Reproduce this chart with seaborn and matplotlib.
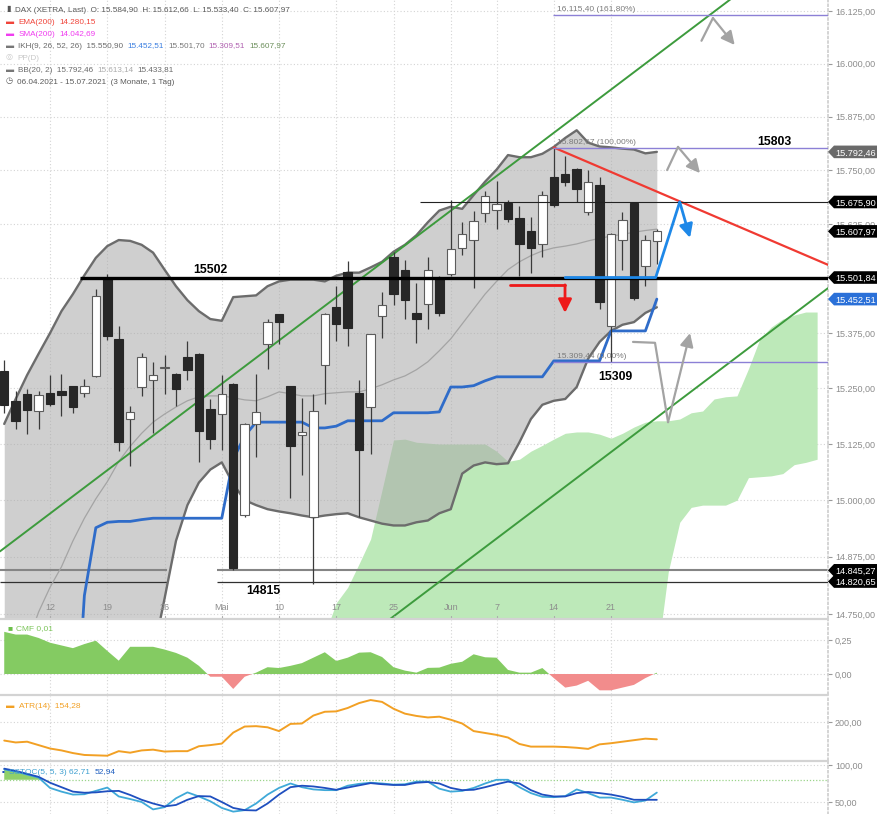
import numpy as np
import pandas as pd
import matplotlib
matplotlib.use("Agg")
import matplotlib.pyplot as plt
import matplotlib.transforms as mtransforms
from matplotlib.ticker import FixedLocator, NullLocator, NullFormatter, FuncFormatter
from matplotlib.patches import Polygon
from matplotlib.lines import Line2D
import seaborn as sns

sns.set_theme(style="white")
plt.rcParams["font.family"] = ["Liberation Sans", "DejaVu Sans"]

# ---------------------------------------------------------------- data
trade_days = pd.bdate_range("2021-04-06", "2021-06-25").drop(pd.Timestamp("2021-05-24"))
future_days = pd.bdate_range("2021-06-28", "2021-07-15")

tick_dates = ["2021-04-12", "2021-04-19", "2021-04-26", "2021-05-03", "2021-05-10", "2021-05-17",
              "2021-05-25", "2021-06-01", "2021-06-07", "2021-06-14", "2021-06-21"]
tick_labels = ["12", "19", "26", "Mai", "10", "17", "25", "Jun", "7", "14", "21"]

opens = [15290, 15222, 15237, 15198, 15240, 15245, 15255, 15239, 15277, 15501,
         15362, 15181, 15253, 15269, 15297, 15283, 15320, 15328, 15204, 15192,
         15260, 14967, 15170, 15351, 15418, 15255, 15145, 14963, 15302, 15434,
         15514, 15239, 15208, 15413, 15549, 15520, 15421, 15441, 15498, 15511,
         15569, 15589, 15650, 15657, 15673, 15639, 15609, 15580, 15735, 15740,
         15752, 15652, 15716, 15392, 15588, 15673, 15528, 15584.90]
highs = [15313, 15245, 15249, 15245, 15279, 15283, 15256, 15271, 15475, 15510,
         15392, 15211, 15330, 15310, 15326, 15285, 15358, 15330, 15226, 15279,
         15262, 15171, 15283, 15407, 15418, 15255, 15228, 15238, 15420, 15483,
         15539, 15268, 15372, 15468, 15560, 15543, 15490, 15549, 15505, 15680,
         15629, 15654, 15702, 15725, 15680, 15667, 15641, 15701, 15802.67, 15784,
         15754, 15750, 15735, 15605, 15652, 15676, 15600, 15612.66]
lows = [15195, 15158, 15147, 15158, 15211, 15188, 15194, 15230, 15275, 15360,
        15109, 15075, 15232, 15149, 15237, 15211, 15269, 15085, 15113, 15111,
        14845, 14963, 15095, 15293, 15351, 15004, 15057, 14816, 15215, 15356,
        15345, 14963, 15102, 15364, 15440, 15407, 15353, 15385, 15415, 15505,
        15554, 15479, 15630, 15614, 15630, 15505, 15513, 15550, 15665, 15712,
        15675, 15645, 15430, 15309.44, 15520, 15450, 15482, 15533.40]
closes = [15213, 15177, 15201, 15234, 15215, 15234, 15209, 15256, 15460, 15368,
          15130, 15196, 15320, 15279, 15299, 15249, 15292, 15155, 15136, 15237,
          14850, 15170, 15196, 15401, 15401, 15120, 15151, 15200, 15418, 15396,
          15386, 15112, 15372, 15439, 15464, 15450, 15407, 15520, 15421, 15567,
          15601, 15631, 15689, 15672, 15637, 15579, 15569, 15692, 15669, 15723,
          15706, 15723, 15446, 15603, 15635, 15456, 15588, 15607.97]

bb_upper = [15170, 15226, 15280, 15328, 15375, 15425, 15464, 15507, 15547, 15574,
            15588, 15586, 15577, 15559, 15520, 15482, 15450, 15425, 15407, 15403,
            15457, 15459, 15461, 15482, 15493, 15497, 15497, 15497, 15493, 15506,
            15513, 15513, 15525, 15538, 15561, 15577, 15599, 15629, 15656, 15665,
            15660, 15692, 15723, 15751, 15785, 15780, 15780, 15788, 15804, 15825,
            15843, 15814, 15805, 15803, 15800, 15798, 15789, 15792.46]
bb_middle = [14550, 14620, 14684, 14754, 14808, 14853, 14910, 14960, 15003, 15041,
             15086, 15120, 15149, 15174, 15192, 15208, 15222, 15231, 15233, 15233,
             15229, 15224, 15222, 15231, 15242, 15238, 15233, 15233, 15238, 15240,
             15242, 15242, 15249, 15258, 15269, 15278, 15292, 15310, 15335, 15362,
             15396, 15430, 15464, 15493, 15520, 15538, 15552, 15563, 15570, 15574,
             15579, 15586, 15592, 15597, 15601, 15606, 15610, 15613.14]
bb_lower = [14300, 14320, 14340, 14360, 14380, 14400, 14420, 14440, 14460, 14480,
            14500, 14520, 14548, 14661, 14783, 14910, 14989, 15039, 15068, 15084,
            15036, 15000, 14989, 14980, 14975, 14971, 14966, 14962, 14966, 14969,
            14971, 14962, 14955, 14948, 14944, 14944, 14951, 14955, 14971, 14980,
            15059, 15077, 15084, 15080, 15082, 15129, 15181, 15213, 15222, 15226,
            15253, 15317, 15355, 15380, 15394, 15400, 15421, 15433.81]
kijun = [np.nan, np.nan, np.nan, np.nan, np.nan, np.nan, 14400, 14790, 14939, 14951,
         14953, 14953, 14957, 14960, 14960, 14960, 14960, 14960, 14960, 14960,
         15091, 15143, 15174, 15174, 15174, 15174, 15174, 15161, 15161, 15165,
         15177, 15177, 15177, 15177, 15195, 15195, 15195, 15195, 15197, 15253,
         15253, 15256, 15267, 15276, 15276, 15276, 15276, 15276, 15312, 15312,
         15312, 15312, 15312, 15380, 15380, 15380, 15380, 15452.51]

cloud_start = 28
cloud_top = [14706, 14774, 14808, 14860, 14914, 15023, 15134, 15136, 15129, 15127,
             15125, 15125, 15125, 15125, 15125, 15109, 15086, 15091, 15109, 15122,
             15136, 15149, 15152, 15152, 15147, 15138, 15149, 15163, 15174, 15177,
             15177, 15181, 15195, 15199, 15226, 15231, 15233, 15294, 15362, 15389,
             15407, 15416, 15423, 15423]
cloud_bottom = [14600, 14600, 14600, 14600, 14600, 14600, 14600, 14600, 14600, 14600,
                14600, 14600, 14600, 14600, 14600, 14600, 14600, 14600, 14600, 14600,
                14600, 14600, 14600, 14600, 14600, 14600, 14600, 14600, 14600, 14650,
                14842, 14951, 14984, 14989, 14989, 14989, 15000, 15050, 15052, 15054,
                15059, 15079, 15084, 15091]

cmf = [0.31, 0.29, 0.29, 0.265, 0.23, 0.21, 0.19, 0.22, 0.245, 0.17,
       0.098, 0.20, 0.20, 0.20, 0.18, 0.155, 0.12, 0.06, -0.02, -0.02,
       -0.11, -0.02, 0.01, 0.05, 0.044, 0.06, 0.08, 0.12, 0.16, 0.096,
       0.12, 0.157, 0.16, 0.125, 0.05, 0.025, 0.01, 0.045, 0.047, 0.075,
       0.09, 0.145, 0.123, 0.12, 0.03, 0.01, 0.01, 0.044, -0.03, -0.10,
       -0.085, -0.05, -0.12, -0.12, -0.10, -0.08, -0.03, 0.01]
atr = [151, 146, 148, 139, 130, 125, 118, 113, 112, 111,
       123, 119, 125, 127, 122, 123, 123, 136, 139, 143,
       172, 188, 189, 186, 176, 195, 196, 217, 227, 228,
       237, 250, 258, 253, 235, 222, 216, 212, 214, 206,
       196, 176, 171, 166, 159, 142, 135, 135, 135, 134,
       132, 129, 141, 144, 148, 152, 156, 154.28]
sstoc_fast = [94, 91, 87, 83, 69, 64, 60, 60.5, 65, 69.5,
              57.5, 54, 50, 40, 43, 55, 63, 57.5, 51, 42,
              37, 39, 48, 60, 69, 75, 70, 67, 66, 66,
              72, 74.5, 76, 75, 73.5, 74, 77.5, 77.5, 68, 64,
              65, 69, 75, 80, 80, 70, 62, 57, 56.5, 58,
              67, 62, 56, 56, 53, 49.5, 52, 62.71]
sstoc_slow = [95, 92, 88, 84, 76, 70, 64, 62.5, 63, 64.5,
              65, 59.5, 53, 48, 44, 46, 53, 58, 57.5, 50,
              42, 39, 38.6, 48, 60, 70, 72, 71, 69, 66.5,
              69.5, 72.5, 75.5, 74, 73, 73, 76, 77, 75, 69,
              66, 66.5, 70, 74, 77.5, 75, 66, 60, 57.5, 57.5,
              62, 63.5, 62, 60, 57, 53, 53, 52.94]

ema200_last = 14280.15
sma200_last = 14042.69
ikh_values = [15550.90, 15452.51, 15501.70, 15309.51, 15607.97]

level_main = 15501.84
level_thin = 15675.90
low_levels = [14845.27, 14820.65]
fib_levels = [16115.40, 15802.67, 15309.44]
fib_pcts = [161.80, 100.00, 0.00]
price_ticks = [14750, 14875, 15000, 15125, 15250, 15375, 15500, 15625, 15750, 15875, 16000, 16125]

# trend lines: two anchor points each (trading-day index, price)
upper_channel = [(0, 14894), (48, 15837)]
lower_channel = [(40, 14858), (70, 15439)]
red_trend = [(48, 15802.67), (71.95, 15531)]

# hand-drawn scenario arrows (trading-day index, price)
blue_path = ([49.0, 56.9, 59.0, 59.9], [15501.84, 15501.84, 15675.90, 15593])
red_path = ([44.2, 48.98, 48.98], [15485, 15485, 15421])
grey_path_a = ([60.9, 61.9, 63.8], [16054, 16108, 16044])
grey_path_b = ([57.9, 58.85, 60.77], [15750, 15804, 15743])
grey_path_c = ([54.92, 56.84, 57.98, 59.9], [15355, 15353, 15174, 15375])


def de(v, d=2):
    return f"{v:,.{d}f}".replace(",", "X").replace(".", ",").replace("X", ".")


# ---------------------------------------------------------------- layout
W, H = 877, 814
fig = plt.figure(figsize=(W / 100, H / 100), dpi=100)
fig.patch.set_facecolor("white")


def rect(x0, y0, x1, y1):
    return [x0 / W, 1 - y1 / H, (x1 - x0) / W, (y1 - y0) / H]


ax = fig.add_axes(rect(0, 0, 828, 618))
axc = fig.add_axes(rect(0, 620, 828, 694), sharex=ax)
axa = fig.add_axes(rect(0, 696, 828, 760), sharex=ax)
axs = fig.add_axes(rect(0, 762, 828, 814), sharex=ax)

XMIN, XMAX = -0.37, 71.95
YMIN, YMAX = 14741, 16151
x = np.arange(len(closes))
o, h, l, c = map(np.array, (opens, highs, lows, closes))

GRID = dict(color="#d4d4d4", linestyle=(0, (1, 2)), linewidth=0.8)
for a in (ax, axc, axa, axs):
    a.set_facecolor("white")
    for s in a.spines.values():
        s.set_visible(False)
    a.spines["right"].set_visible(True)
    a.spines["right"].set_color("#cfcfcf")
    a.spines["right"].set_linestyle(":")
    a.yaxis.tick_right()
    a.tick_params(axis="y", which="major", labelsize=6.5, labelcolor="#8c8c8c",
                  color="#9a9a9a", length=3, width=0.8, pad=2, direction="out")
    a.grid(True, **GRID)
    a.set_axisbelow(True)

# ---------------------------------------------------------------- main panel
ax.set_yscale("log")
cx = np.arange(cloud_start, cloud_start + len(cloud_top))
ax.fill_between(cx, cloud_bottom, cloud_top, color="#bde9b9", lw=0, zorder=1)
ax.fill_between(x, bb_lower, bb_upper, color="#a9a9a9", alpha=0.55, lw=0, zorder=2)

# support lines at the lows
for lv, col, lw in zip(low_levels, ["#858585", "#303030"], [1.5, 0.9]):
    ax.hlines(lv, XMIN, 14.2, color=col, lw=lw, zorder=2.5)
    ax.hlines(lv, 18.6, XMAX, color=col, lw=lw, zorder=2.5)

sns.lineplot(x=x, y=bb_upper, ax=ax, color="#6c6c6c", lw=1.7, zorder=3)
sns.lineplot(x=x, y=bb_lower, ax=ax, color="#6c6c6c", lw=1.7, zorder=3)
sns.lineplot(x=x, y=bb_middle, ax=ax, color="#a4a4a4", lw=0.9, zorder=3)


def line_through(anchors, xs):
    (x1, p1), (x2, p2) = anchors
    return p1 * (p2 / p1) ** ((np.asarray(xs) - x1) / (x2 - x1))


ext = np.array([XMIN, XMAX])
ax.plot(ext, line_through(upper_channel, ext), color="#3d9b3d", lw=1.4, zorder=4)
ax.plot(ext, line_through(lower_channel, ext), color="#3d9b3d", lw=1.4, zorder=4)
rx = np.array([red_trend[0][0], XMAX])
ax.plot(rx, line_through(red_trend, rx), color="#f03a32", lw=1.6, zorder=4)

sns.lineplot(x=x, y=kijun, ax=ax, color="#2f6cc9", lw=2.0, zorder=4.5)

# candles
up = c >= o
ax.vlines(x, l, h, color="#3a3a3a", lw=0.9, zorder=5)
body_lo = np.minimum(o, c)
body_h = np.maximum(np.abs(c - o), 1.5)
ax.bar(x[up], body_h[up], bottom=body_lo[up], width=0.74, color="white",
       edgecolor="#5c5c5c", lw=0.8, zorder=6)
ax.bar(x[~up], body_h[~up], bottom=body_lo[~up], width=0.74, color="#272727",
       edgecolor="#272727", lw=0.8, zorder=6)

# horizontal levels
ax.hlines(level_main, 6.6, XMAX, color="black", lw=2.4, zorder=7)
ax.hlines(level_thin, 36.3, XMAX, color="#222222", lw=0.8, zorder=7)
for fv, fp in zip(fib_levels, fib_pcts):
    ax.hlines(fv, 47.93, XMAX, color="#8c80d6", lw=1.0, zorder=7)
    ax.annotate(f"{de(fv)} ({de(fp)}%)", xy=(48.3, fv), xytext=(0, 1.2), textcoords="offset points",
                va="bottom", ha="left", fontsize=6, color="#7a7a7a", zorder=8)

BOLD = dict(fontsize=8.8, fontweight="bold", color="black", zorder=9, va="baseline", ha="center")
ax.annotate(f"{level_main:.0f}", xy=(18.0, level_main), xytext=(0, 3.5), textcoords="offset points", **BOLD)
ax.annotate(f"{fib_levels[1]:.0f}", xy=(67.3, fib_levels[1]), xytext=(0, 1.5), textcoords="offset points", **BOLD)
ax.annotate(f"{fib_levels[2]:.0f}", xy=(53.4, fib_levels[2]), xytext=(0, -13), textcoords="offset points", **BOLD)
ax.annotate(f"{low_levels[1] - 5.65:.0f}", xy=(22.6, low_levels[1]), xytext=(0, -8.8), textcoords="offset points", **BOLD)


def hand_arrow(path, color, lw):
    xs, ps = path
    ax.plot(xs[:-1], ps[:-1], color=color, lw=lw, solid_capstyle="round", solid_joinstyle="round", zorder=12)
    ax.annotate("", xy=(xs[-1], ps[-1]), xytext=(xs[-2], ps[-2]),
                arrowprops=dict(arrowstyle="-|>,head_length=0.8,head_width=0.4", color=color, lw=lw,
                                shrinkA=0, shrinkB=0, mutation_scale=10), zorder=12)


hand_arrow(blue_path, "#1e88e8", 2.0)
hand_arrow(red_path, "#ee1a1a", 2.0)
for gp in (grey_path_a, grey_path_b, grey_path_c):
    hand_arrow(gp, "#a3a3a3", 1.6)

# y axis
ax.set_ylim(YMIN, YMAX)
ax.yaxis.set_major_locator(FixedLocator(price_ticks))
ax.yaxis.set_minor_locator(NullLocator())
ax.yaxis.set_minor_formatter(NullFormatter())
ax.yaxis.set_major_formatter(FuncFormatter(lambda v, p: de(v)))

# price tags at the right edge
tag_tr = mtransforms.blended_transform_factory(ax.transAxes, ax.transData)
px_per_log = 618 / np.log(YMAX / YMIN)
tags = [(bb_upper[-1], "#6a6a6a"), (level_thin, "black"), (closes[-1], "black"),
        (level_main, "black"), (kijun[-1], "#2a70d8"), (low_levels[0], "black"), (low_levels[1], "black")]
for price, fc in tags:
    f = np.exp(6.3 / px_per_log)
    xs = [1.0, 1.0 + 6 / 828, 877 / 828, 877 / 828, 1.0 + 6 / 828]
    ys = [price, price * f, price * f, price / f, price / f]
    ax.add_patch(Polygon(list(zip(xs, ys)), closed=True, transform=tag_tr, fc=fc, ec="none",
                         clip_on=False, zorder=20))
    ax.text(1.0 + 7.5 / 828, price, de(price), transform=tag_tr, ha="left", va="center_baseline",
            fontsize=6.6, color="white", clip_on=False, zorder=21)

# x axis: ticks for the grid, labels drawn on top of the fills
tick_idx = [trade_days.get_loc(pd.Timestamp(d)) for d in tick_dates]
ax.set_xticks(tick_idx)
ax.tick_params(axis="x", labelbottom=False, bottom=False)
xlab_tr = mtransforms.blended_transform_factory(ax.transData, ax.transAxes)
for ti, tl in zip(tick_idx, tick_labels):
    ax.text(ti, 10 / 618, tl, transform=xlab_tr, ha="center", va="center", fontsize=6.5,
            color="#8c8c8c", zorder=15)
    ax.plot([ti, ti], [0, 2.5 / 618], transform=xlab_tr, color="#aaaaaa", lw=0.8, zorder=15)
for a in (axc, axa, axs):
    a.tick_params(axis="x", labelbottom=False, bottom=False)

# ---------------------------------------------------------------- legend (main)
def chain_text(axis, px, py, pieces, fs=5.9):
    t = axis.text(px / W, 1 - py / H, pieces[0][0], color=pieces[0][1], fontsize=fs,
                  va="center", ha="left", transform=fig.transFigure, zorder=30)
    for txt, col in pieces[1:]:
        t = axis.annotate(txt, xy=(1, 0.5), xycoords=t, xytext=(3, 0), textcoords="offset points",
                          va="center", ha="left", color=col, fontsize=fs, annotation_clip=False, zorder=30)
    return t


TXT = "#5a5a5a"
chain_text(ax, 6, 10, [("▮", "#555555"),
                       (f"DAX (XETRA, Last)  O: {de(opens[-1])}  H: {de(highs[-1])}  "
                        f"L: {de(lows[-1])}  C: {de(closes[-1])}", TXT)])
chain_text(ax, 6, 22, [("▬", "#f0443a"), ("EMA(200)", "#f0443a"), (de(ema200_last), "#f0443a")])
chain_text(ax, 6, 34, [("▬", "#f03cf0"), ("SMA(200)", "#f03cf0"), (de(sma200_last), "#f03cf0")])
chain_text(ax, 6, 46, [("▬", "#777777"), (f"IKH(9, 26, 52, 26)  {de(ikh_values[0])}", "#6a6a6a"),
                       (de(ikh_values[1]), "#3a7ee0"), (de(ikh_values[2]), "#777777"),
                       (de(ikh_values[3]), "#b060b0"), (de(ikh_values[4]), "#6b8e5a")])
chain_text(ax, 6, 58, [("◎", "#cccccc"), ("PP(D)", "#c8c8c8")])
chain_text(ax, 6, 70, [("▬", "#777777"), (f"BB(20, 2)  {de(bb_upper[-1])}", "#6a6a6a"),
                       (de(bb_middle[-1]), "#aaaaaa"), (de(bb_lower[-1]), "#6a6a6a")])
chain_text(ax, 6, 82, [("◷", "#555555"),
                       (f"{trade_days[0]:%d.%m.%Y} - {future_days[-1]:%d.%m.%Y}  (3 Monate, 1 Tag)", TXT)])

# ---------------------------------------------------------------- CMF
cmf_a = np.array(cmf)
axc.fill_between(x, cmf_a, 0, where=cmf_a >= 0, interpolate=True, color="#84cb62", lw=0, zorder=2)
axc.fill_between(x, cmf_a, 0, where=cmf_a <= 0, interpolate=True, color="#f28c8c", lw=0, zorder=2)
axc.set_ylim(-0.147, 0.397)
axc.set_yticks([0, 0.25])
axc.yaxis.set_major_formatter(FuncFormatter(lambda v, p: de(v)))
chain_text(axc, 7, 629, [("■", "#6cbf4a"), (f"CMF {de(cmf[-1])}", "#7cc55a")], fs=6)

# ---------------------------------------------------------------- ATR
sns.lineplot(x=x, y=atr, ax=axa, color="#f2a024", lw=1.4, zorder=3)
axa.set_ylim(99.7, 268.6)
axa.set_yticks([200])
axa.yaxis.set_major_formatter(FuncFormatter(lambda v, p: de(v)))
chain_text(axa, 6, 707, [("▬", "#f2a024"), (f"ATR(14)  {de(atr[-1])}", "#f2a024")], fs=6)

# ---------------------------------------------------------------- SSTOC
sf = np.array(sstoc_fast)
axs.fill_between(x, sf, 80, where=sf >= 80, interpolate=True, color="#8fd06a", lw=0, zorder=2)
axs.axhline(80, color="#9bd48a", ls=(0, (1, 1.5)), lw=0.9, zorder=2)
sns.lineplot(x=x, y=sstoc_fast, ax=axs, color="#3fa9d8", lw=1.3, zorder=3)
sns.lineplot(x=x, y=sstoc_slow, ax=axs, color="#1f4fbf", lw=1.3, zorder=4)
axs.set_ylim(33.8, 104)
axs.set_yticks([50, 100])
axs.yaxis.set_major_formatter(FuncFormatter(lambda v, p: de(v)))
chain_text(axs, 2, 772, [("▪", "#1f4fbf"), (f"SSTOC(5, 5, 3) {de(sstoc_fast[-1])}", "#3fa0d0"),
                         (de(sstoc_slow[-1]), "#1f5fc0")], fs=6)

for a in (ax, axc, axa, axs):
    a.set_xlabel("")
    a.set_ylabel("")
ax.set_xlim(XMIN, XMAX)
ax.set_ylim(YMIN, YMAX)

# panel separators
for yy in (619, 695, 761):
    fig.add_artist(Line2D([0, 828 / W], [1 - yy / H, 1 - yy / H], transform=fig.transFigure,
                          color="#d3d3d3", lw=1.6))

fig.savefig("out.png", dpi=100)
